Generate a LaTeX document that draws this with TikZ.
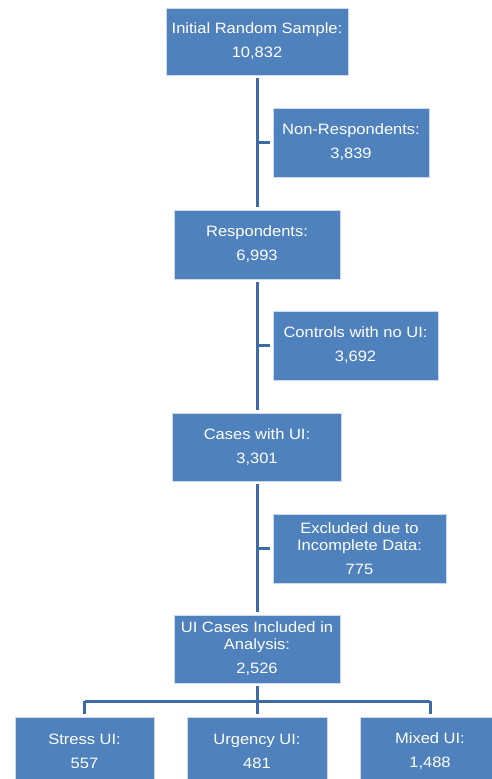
\documentclass[tikz,border=0pt]{standalone}
\usepackage{fontspec}
\setmainfont[FakeStretch=1.1]{Liberation Sans}
\definecolor{boxblue}{RGB}{79,129,189}
\definecolor{linkblue}{RGB}{62,106,166}
\definecolor{edgeblue}{RGB}{205,218,236}
\begin{document}
\begin{tikzpicture}[x=1pt,y=-1pt,
  box/.style={draw=edgeblue, line width=0.8pt, fill=boxblue, text=white,
    font=\fontsize{15}{17}\selectfont, align=center, inner sep=0pt},
  link/.style={draw=linkblue, line width=3pt}]
\useasboundingbox (0,0) rectangle (492,779);
\clip (0,0) rectangle (492,779);
\node[box, minimum width=182pt, minimum height=67pt] (b1) at (257,41.5) {Initial Random Sample:\\[7pt]10,832};
\node[box, minimum width=156pt, minimum height=69pt] (b2) at (351,142.5) {Non-Respondents:\\[7pt]3,839};
\node[box, minimum width=166pt, minimum height=69pt] (b3) at (257,244.5) {Respondents:\\[7pt]6,993};
\node[box, minimum width=165pt, minimum height=69pt] (b4) at (355.5,345.5) {Controls with no UI:\\[7pt]3,692};
\node[box, minimum width=169pt, minimum height=68pt] (b5) at (257,447) {Cases with UI:\\[7pt]3,301};
\node[box, minimum width=173pt, minimum height=69pt] (b6) at (359.5,548.5) {Excluded due to\\Incomplete Data:\\[7pt]775};
\node[box, minimum width=166pt, minimum height=68pt] (b7) at (257,649) {UI Cases Included in\\Analysis:\\[7pt]2,526};
\node[box, minimum width=139pt, minimum height=69pt] (s1) at (84.5,751.5) {Stress UI:\\[7pt]557};
\node[box, minimum width=140pt, minimum height=69pt] (s2) at (257,751.5) {Urgency UI:\\[7pt]481};
\node[box, minimum width=139pt, minimum height=69pt] (s3) at (430,751.5) {Mixed UI:\\[7pt]1,488};
\coordinate (bus) at (257,701);
\draw[link, shorten <=3pt, shorten >=3pt] (b1.south) -- (b3.north);
\draw[link, shorten <=3pt, shorten >=3pt] (b3.south) -- (b5.north);
\draw[link, shorten <=3pt, shorten >=3pt] (b5.south) -- (b7.north);
\draw[link, shorten >=3pt] (b2.west -| b1.south) -- (b2.west);
\draw[link, shorten >=3pt] (b4.west -| b3.south) -- (b4.west);
\draw[link, shorten >=3pt] (b6.west -| b5.south) -- (b6.west);
\draw[link, shorten <=3pt, shorten >=3pt] (b7.south) -- (s2.north);
\draw[link] (s1.north |- bus) -- (s3.north |- bus);
\draw[link, shorten >=3pt] (s1.north |- bus) -- (s1.north);
\draw[link, shorten >=3pt] (s3.north |- bus) -- (s3.north);
\end{tikzpicture}
\end{document}
